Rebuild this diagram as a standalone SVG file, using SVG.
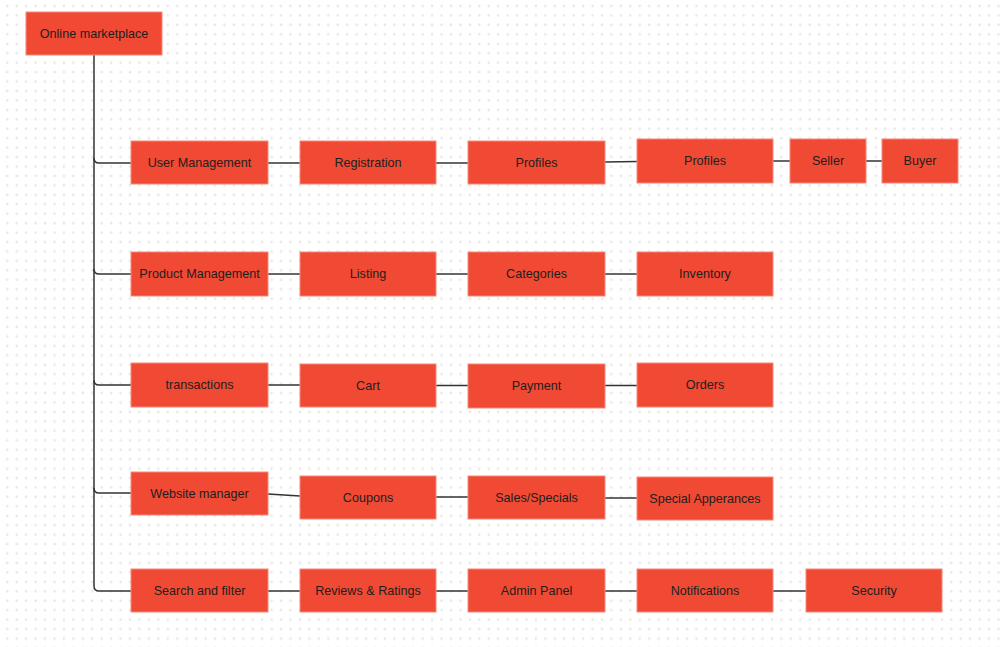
<svg xmlns="http://www.w3.org/2000/svg" width="1004" height="647" viewBox="0 0 1004 647">
<defs>
<pattern id="dots" patternUnits="userSpaceOnUse" x="2.58" y="1.34" width="9.44" height="9.44">
<circle cx="4.72" cy="4.72" r="1.3" fill="#e8e8e8"/>
</pattern>
<style>
.n rect{fill:#f04a34;stroke:#f58a7a;stroke-width:1}
.n text{font-family:"Liberation Sans",Arial,sans-serif;font-size:12.6px;fill:#1e1e1e;text-anchor:middle;dominant-baseline:central}
.c path{fill:none;stroke:#333;stroke-width:1.5}
</style>
</defs>
<rect width="1004" height="647" fill="#ffffff"/>
<rect width="1004" height="647" fill="url(#dots)"/>
<g class="c" id="connectors">
<path d="M94 55 V586 Q94 591 99 591 H131"/>
<path d="M94 158 Q94 163 99 163 H131"/>
<path d="M94 269 Q94 274 99 274 H131"/>
<path d="M94 380 Q94 385 99 385 H131"/>
<path d="M94 488 Q94 493 99 493 H131"/>
<path d="M268 163 H300"/>
<path d="M436 163 H468"/>
<path d="M605 162 L637 161.5"/>
<path d="M773 161 H790"/>
<path d="M866 161 H882"/>
<path d="M268 274 H300"/>
<path d="M436 274 H468"/>
<path d="M605 274 H637"/>
<path d="M268 385 H300"/>
<path d="M436 385.5 H468"/>
<path d="M605 385.5 H637"/>
<path d="M268 494 L300 496"/>
<path d="M436 497 H468"/>
<path d="M605 498 H637"/>
<path d="M268 591 H300"/>
<path d="M436 591 H468"/>
<path d="M605 591 H637"/>
<path d="M773 591 H806"/>
</g>
<g class="n" id="online-marketplace"><rect x="26" y="12" width="136" height="43"/><text x="94" y="33.5">Online marketplace</text></g>
<g class="n" id="user-management"><rect x="131" y="141" width="137" height="43"/><text x="199.5" y="162.5">User Management</text></g>
<g class="n" id="registration"><rect x="300" y="141" width="136" height="43"/><text x="368" y="162.5">Registration</text></g>
<g class="n" id="profiles-1"><rect x="468" y="141" width="137" height="43"/><text x="536.5" y="162.5">Profiles</text></g>
<g class="n" id="profiles-2"><rect x="637" y="139" width="136" height="44"/><text x="705" y="161">Profiles</text></g>
<g class="n" id="seller"><rect x="790" y="139" width="76" height="44"/><text x="828" y="161">Seller</text></g>
<g class="n" id="buyer"><rect x="882" y="139" width="76" height="44"/><text x="920" y="161">Buyer</text></g>
<g class="n" id="product-management"><rect x="131" y="252" width="137" height="44"/><text x="199.5" y="274">Product Management</text></g>
<g class="n" id="listing"><rect x="300" y="252" width="136" height="44"/><text x="368" y="274">Listing</text></g>
<g class="n" id="categories"><rect x="468" y="252" width="137" height="44"/><text x="536.5" y="274">Categories</text></g>
<g class="n" id="inventory"><rect x="637" y="252" width="136" height="44"/><text x="705" y="274">Inventory</text></g>
<g class="n" id="transactions"><rect x="131" y="363" width="137" height="44"/><text x="199.5" y="385">transactions</text></g>
<g class="n" id="cart"><rect x="300" y="364" width="136" height="43"/><text x="368" y="385.5">Cart</text></g>
<g class="n" id="payment"><rect x="468" y="364" width="137" height="44"/><text x="536.5" y="386">Payment</text></g>
<g class="n" id="orders"><rect x="637" y="363" width="136" height="44"/><text x="705" y="385">Orders</text></g>
<g class="n" id="website-manager"><rect x="131" y="472" width="137" height="43"/><text x="199.5" y="493.5">Website manager</text></g>
<g class="n" id="coupons"><rect x="300" y="476" width="136" height="43"/><text x="368" y="497.5">Coupons</text></g>
<g class="n" id="sales-specials"><rect x="468" y="476" width="137" height="43"/><text x="536.5" y="497.5">Sales/Specials</text></g>
<g class="n" id="special-apperances"><rect x="637" y="477" width="136" height="43"/><text x="705" y="498.5">Special Apperances</text></g>
<g class="n" id="search-filter"><rect x="131" y="569" width="137" height="43"/><text x="199.5" y="590.5">Search and filter</text></g>
<g class="n" id="reviews-ratings"><rect x="300" y="569" width="136" height="43"/><text x="368" y="590.5">Reviews &amp; Ratings</text></g>
<g class="n" id="admin-panel"><rect x="468" y="569" width="137" height="43"/><text x="536.5" y="590.5">Admin Panel</text></g>
<g class="n" id="notifications"><rect x="637" y="569" width="136" height="43"/><text x="705" y="590.5">Notifications</text></g>
<g class="n" id="security"><rect x="806" y="569" width="136" height="43"/><text x="874" y="590.5">Security</text></g>
</svg>
